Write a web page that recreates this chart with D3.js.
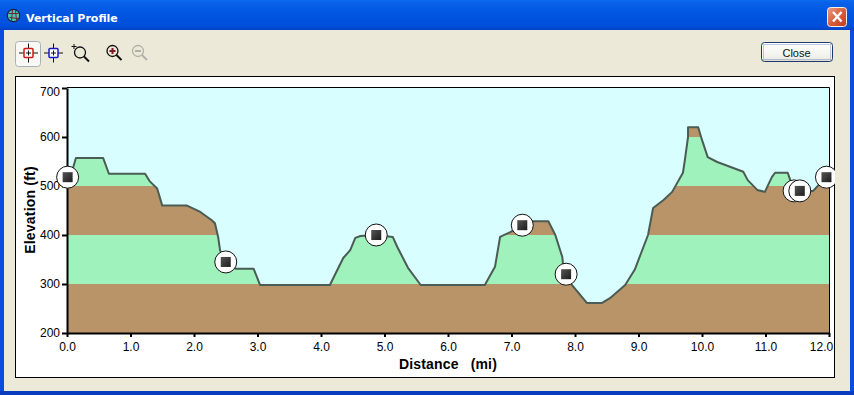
<!DOCTYPE html>
<html>
<head>
<meta charset="utf-8">
<script src="https://cdn.jsdelivr.net/npm/d3@7"></script>
<style>
  html, body { margin: 0; padding: 0; background: #ece9d8; overflow: hidden; }
  text { font-family: "Liberation Sans", Arial, sans-serif; }
</style>
</head>
<body>
<div id="chart"></div>
<script>
// profile: distance (mi) and elevation (ft)
const distances = [0, 0.08, 0.14, 0.57, 0.66, 1.23, 1.3, 1.42, 1.5, 1.89, 2.1, 2.28, 2.33, 2.38, 2.41, 2.5, 2.66, 2.94, 3.04,
  4.14, 4.35, 4.46, 4.54, 4.62, 4.87, 5.13, 5.2, 5.37, 5.57, 6.58, 6.74, 6.82, 6.98, 7.17, 7.3, 7.58, 7.69, 7.8, 7.81, 7.86, 7.95,
  8.19, 8.42, 8.55, 8.79, 8.94, 9.15, 9.23, 9.39, 9.53, 9.7, 9.73, 9.78, 9.78, 9.94, 10.0, 10.09, 10.24, 10.65, 10.72, 10.87, 10.99,
  11.1, 11.15, 11.35, 11.39, 11.45, 11.57, 11.75, 11.86, 12];
const elevations = [518, 530, 557, 557, 525, 525, 510, 495, 460, 460, 447, 430, 424, 396, 369, 345, 331, 331, 298,
  298, 353, 369, 394, 398, 400, 396, 376, 333, 298, 298, 335, 396, 406, 420, 428, 428, 400, 355, 343, 320, 298,
  261, 261, 271, 298, 329, 400, 455, 471, 488, 527, 553, 600, 620, 620, 594, 559, 549, 529, 512, 492, 488,
  518, 527, 527, 512, 490, 490, 490, 505, 518];

// waypoints
const markerDist = [0.01, 2.5, 4.87, 7.17, 7.86, 11.45, 11.54, 11.96];
const markerElev = [518, 345, 400, 420, 320, 490, 490, 518];

// alternating 100 ft elevation bands
const bandFloors = [200, 300, 400, 500, 600];
const bandColors = ["#b89468", "#9ff2bc", "#b89468", "#9ff2bc", "#b89468"];

const xTicks = [0, 1, 2, 3, 4, 5, 6, 7, 8, 9, 10, 11, 12];
const yTicks = [200, 300, 400, 500, 600, 700];

const width = 854, height = 395;
const plot = { left: 67, right: 829, top: 88, bottom: 333 };

const svg = d3.select("#chart").append("svg")
    .attr("width", width)
    .attr("height", height)
    .style("display", "block");

const defs = svg.append("defs");

// title bar gradient
const titleGrad = defs.append("linearGradient").attr("id", "titleGrad")
    .attr("x1", 0).attr("y1", 0).attr("x2", 0).attr("y2", 1);
[[0, "#0a6af0"], [0.12, "#0860e8"], [0.5, "#0054e0"], [0.85, "#0050dc"], [1, "#0242c4"]].forEach(s =>
  titleGrad.append("stop").attr("offset", s[0]).attr("stop-color", s[1]));

const closeGrad = defs.append("linearGradient").attr("id", "closeGrad")
    .attr("x1", 0).attr("y1", 0).attr("x2", 1).attr("y2", 1);
[[0, "#e8a08a"], [0.5, "#d8603c"], [1, "#c03a18"]].forEach(s =>
  closeGrad.append("stop").attr("offset", s[0]).attr("stop-color", s[1]));

const btnGrad = defs.append("linearGradient").attr("id", "btnGrad")
    .attr("x1", 0).attr("y1", 0).attr("x2", 0).attr("y2", 1);
[[0, "#ffffff"], [0.8, "#f0f0ea"], [1, "#d8d4c8"]].forEach(s =>
  btnGrad.append("stop").attr("offset", s[0]).attr("stop-color", s[1]));

const markGrad = defs.append("linearGradient").attr("id", "markGrad")
    .attr("x1", 0).attr("y1", 0).attr("x2", 1).attr("y2", 1);
[[0, "#555555"], [1, "#1c1c1c"]].forEach(s =>
  markGrad.append("stop").attr("offset", s[0]).attr("stop-color", s[1]));

// window frame
svg.append("rect").attr("width", width).attr("height", height).attr("fill", "#0a4be0");
svg.append("rect").attr("width", width).attr("height", 30).attr("fill", "url(#titleGrad)");
svg.append("rect").attr("x", 4).attr("y", 30).attr("width", 846).attr("height", 361).attr("fill", "#ece9d8");
svg.append("rect").attr("y", 391).attr("width", width).attr("height", 4).attr("fill", "#0a3cc0");

// title icon and text
const globe = svg.append("g").attr("transform", "translate(13.5,15.5)");
globe.append("circle").attr("r", 6.2).attr("fill", "#48c8b8").attr("stroke", "#102040").attr("stroke-width", 1.2);
globe.append("path").attr("d", "M-5,-2 L5,-2 M-4,2 L5,3 M-1,-6 L-2,6 M2,-5 L3,5")
    .attr("stroke", "#702030").attr("fill", "none");
svg.append("text").attr("x", 26).attr("y", 22)
    .style("font-family", "'DejaVu Sans', sans-serif")
    .style("font-size", "11px").style("font-weight", "bold").attr("fill", "#fff")
    .text("Vertical Profile");

// close box
svg.append("rect").attr("x", 827.5).attr("y", 7.5).attr("width", 19).attr("height", 19).attr("rx", 3)
    .attr("fill", "url(#closeGrad)").attr("stroke", "#f4f0ea");
svg.append("path").attr("d", "M833,12 L841.5,21.5 M841.5,12 L833,21.5")
    .attr("stroke", "#fff").attr("stroke-width", 2.4);

// toolbar
svg.append("rect").attr("x", 15.5).attr("y", 41.5).attr("width", 25).attr("height", 25).attr("rx", 3)
    .attr("fill", "#f8f8f4").attr("stroke", "#a8b0b8");

function crosshair(cx, cy, color) {
  const g = svg.append("g").attr("transform", `translate(${cx},${cy})`);
  g.append("path").attr("d", "M-9.5,0 H9.5 M0,-9.5 V9.5").attr("stroke", "#111").attr("stroke-width", 1);
  g.append("rect").attr("x", -4.5).attr("y", -4.5).attr("width", 9).attr("height", 9).attr("rx", 1)
      .attr("fill", "#fff").attr("stroke", color).attr("stroke-width", 1.5);
  g.append("path").attr("d", "M-2.5,0 H2.5 M0,-2.5 V2.5").attr("stroke", "#111").attr("stroke-width", 1);
}
crosshair(28.5, 53, "#d01818");
crosshair(53.5, 53, "#1818c0");

function magnifier(cx, cy, color, sign) {
  const g = svg.append("g").attr("transform", `translate(${cx},${cy})`);
  g.append("circle").attr("r", 5.5).attr("fill", "none").attr("stroke", color).attr("stroke-width", 1.3);
  g.append("path").attr("d", "M4,4 L9,9").attr("stroke", color).attr("stroke-width", 2);
  if (sign) g.append("path").attr("d", sign).attr("stroke", color === "#111" ? "#801828" : color).attr("stroke-width", 2);
}
magnifier(80, 52.5, "#111", null);
svg.append("path").attr("d", "M71.5,46.5 H76.5 M74,44 V49").attr("stroke", "#111");
magnifier(112.5, 51, "#111", "M-3,0 H3 M0,-3 V3");
magnifier(138, 51, "#b0b0a8", "M-3,0 H3");

// Close button
svg.append("rect").attr("x", 761.5).attr("y", 42.5).attr("width", 71).attr("height", 19).attr("rx", 3)
    .attr("fill", "url(#btnGrad)").attr("stroke", "#1c3a70");
svg.append("rect").attr("x", 763.5).attr("y", 44.5).attr("width", 67).attr("height", 15)
    .attr("fill", "none").attr("stroke", "#8098c8").attr("stroke-dasharray", "1,1");
svg.append("text").attr("x", 796.5).attr("y", 57).attr("text-anchor", "middle")
    .style("font-size", "11px").attr("fill", "#111").text("Close");

// chart panel
svg.append("rect").attr("x", 15.5).attr("y", 76.5).attr("width", 819).attr("height", 301)
    .attr("fill", "#fff").attr("stroke", "#000");

defs.append("clipPath").attr("id", "panelClip").append("rect")
    .attr("x", 16).attr("y", 77).attr("width", 819).attr("height", 300);

// Scales
const x = d3.scaleLinear().domain([0, 12]).range([plot.left, plot.right]);
const y = d3.scaleLinear().domain([200, 700]).range([plot.bottom, plot.top]);

// Sky background
svg.append("rect")
    .attr("x", x(0)).attr("y", y(700))
    .attr("width", x(12) - x(0)).attr("height", y(200) - y(700))
    .attr("fill", "#d9feff");

const profile = distances.map((d, i) => [d, elevations[i]]);

const area = d3.area().x(d => x(d[0])).y0(y(200)).y1(d => y(d[1]));
const line = d3.line().x(d => x(d[0])).y(d => y(d[1]));

defs.append("clipPath").attr("id", "groundClip").append("path").attr("d", area(profile));

// Elevation bands cut to the ground shape
svg.append("g").attr("clip-path", "url(#groundClip)")
  .selectAll("rect")
  .data(bandFloors)
  .enter()
  .append("rect")
    .attr("x", x(0))
    .attr("y", d => y(d + 100))
    .attr("width", x(12) - x(0))
    .attr("height", d => y(d) - y(d + 100))
    .attr("fill", (d, i) => bandColors[i]);

// Profile line
svg.append("path")
    .attr("d", line(profile))
    .attr("fill", "none")
    .attr("stroke", "#4a5c54")
    .attr("stroke-width", 2)
    .attr("stroke-linejoin", "round");

// Plot frame top and right
svg.append("path")
    .attr("d", `M${x(0)},${y(700) - 0.5} H${x(12) + 0.5} V${y(200)}`)
    .attr("fill", "none").attr("stroke", "#000");

// Axes
const xAxis = svg.append("g")
    .attr("transform", `translate(0,${plot.bottom})`)
    .call(d3.axisBottom(x).tickValues(xTicks).tickFormat(d3.format(".1f")).tickSize(4).tickSizeOuter(0));
const yAxis = svg.append("g")
    .attr("transform", `translate(${plot.left},0)`)
    .call(d3.axisLeft(y).tickValues(yTicks).tickSize(5).tickSizeOuter(0));

[xAxis, yAxis].forEach(a => {
  a.select(".domain").attr("stroke", "#000").attr("stroke-width", 2);
  a.selectAll(".tick line").attr("stroke", "#000").attr("stroke-width", 2);
  a.selectAll("text").attr("fill", "#000")
    .style("font-family", "'Liberation Sans', Arial, sans-serif").style("font-size", "12px");
});
xAxis.selectAll("text").attr("y", 9);
yAxis.selectAll("text").attr("x", -7);

// The end labels are pulled inside the panel, as the original does
xAxis.selectAll(".tick text").filter(d => d === 12).attr("dx", -8);
yAxis.selectAll(".tick text").filter(d => d === 700).attr("dy", "0.65em");

// Axis titles
svg.append("text")
    .attr("x", 448).attr("y", 369)
    .attr("text-anchor", "middle")
    .style("font-size", "14px").style("font-weight", "bold").style("letter-spacing", "0.15px")
    .style("white-space", "pre")
    .text("Distance   (mi)");

svg.append("text")
    .attr("transform", "translate(35,210) rotate(-90)")
    .attr("text-anchor", "middle")
    .style("font-size", "14px").style("font-weight", "bold").style("letter-spacing", "0.2px")
    .text("Elevation (ft)");

// Waypoint markers
const markers = svg.append("g").attr("clip-path", "url(#panelClip)")
  .selectAll("g")
  .data(markerDist)
  .enter()
  .append("g")
    .attr("transform", (d, i) => `translate(${x(d)},${y(markerElev[i])})`);

markers.append("circle")
    .attr("r", 11)
    .attr("fill", "#fff")
    .attr("stroke", "#111")
    .attr("stroke-width", 1);

markers.append("rect")
    .attr("x", -5).attr("y", -5)
    .attr("width", 10).attr("height", 10)
    .attr("fill", "url(#markGrad)");
</script>
</body>
</html>
